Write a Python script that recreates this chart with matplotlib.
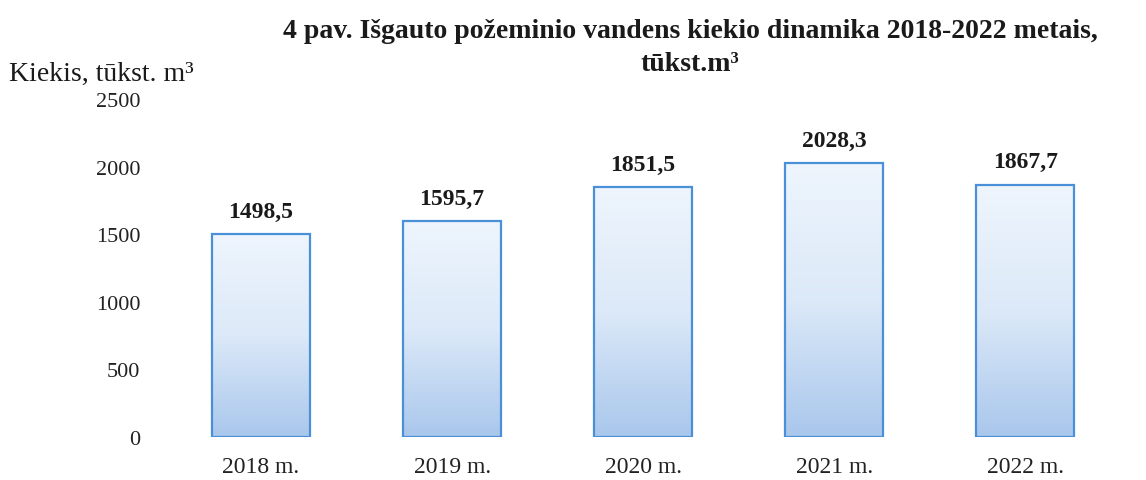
import numpy as np
import matplotlib.pyplot as plt
from matplotlib.colors import LinearSegmentedColormap

years = ['2018 m.', '2019 m.', '2020 m.', '2021 m.', '2022 m.']
values = [1498.5, 1595.7, 1851.5, 2028.3, 1867.7]
labels = ['1498,5', '1595,7', '1851,5', '2028,3', '1867,7']
yticks = [0, 500, 1000, 1500, 2000, 2500]

plt.rcParams['font.family'] = ['Liberation Serif', 'DejaVu Serif']

fig = plt.figure(figsize=(11.46, 4.81), dpi=100)
ax = fig.add_axes([0.1396, 0.0894, 0.855, 0.7026])

x = np.arange(len(values))
bars = ax.bar(x, values, width=0.515, facecolor='none', edgecolor='#4a90d9', linewidth=1.6, zorder=3)

# vertical gradient inside each bar, light at top, bluer at bottom
cmap = LinearSegmentedColormap.from_list('g', ['#a9c7ec', '#dce9f8', '#eef5fd'])
grad = np.linspace(0, 1, 256).reshape(-1, 1)
for b in bars:
    x0 = b.get_x()
    im = ax.imshow(grad, extent=[x0, x0 + b.get_width(), 0, b.get_height()],
                   origin='lower', cmap=cmap, aspect='auto', zorder=2)
    im.set_clip_path(b)

for xi, v, lab in zip(x, values, labels):
    ax.text(xi, v + 90, lab, ha='center', va='bottom', fontsize=17, fontweight='bold', color='#1a1a1a')

ax.set_xlim(-0.529, 4.60)
ax.set_ylim(0, 2500)
ax.set_yticks(yticks)
ax.set_yticklabels([str(t) for t in yticks], fontsize=16, color='#222222')
ax.set_xticks(x)
ax.set_xticklabels(years, fontsize=17, color='#222222')
ax.tick_params(length=0, axis='y', pad=14)
ax.tick_params(length=0, axis='x', pad=14)
for s in ax.spines.values():
    s.set_visible(False)

fig.text(0.602, 0.9, '4 pav. Išgauto požeminio vandens kiekio dinamika 2018-2022 metais,\ntūkst.m³',
         ha='center', va='center', fontsize=20, fontweight='bold', linespacing=1.4, color='#1a1a1a')
fig.text(0.008, 0.845, 'Kiekis, tūkst. m³', ha='left', va='center', fontsize=20, color='#1a1a1a')

fig.savefig('out.png', dpi=100)
